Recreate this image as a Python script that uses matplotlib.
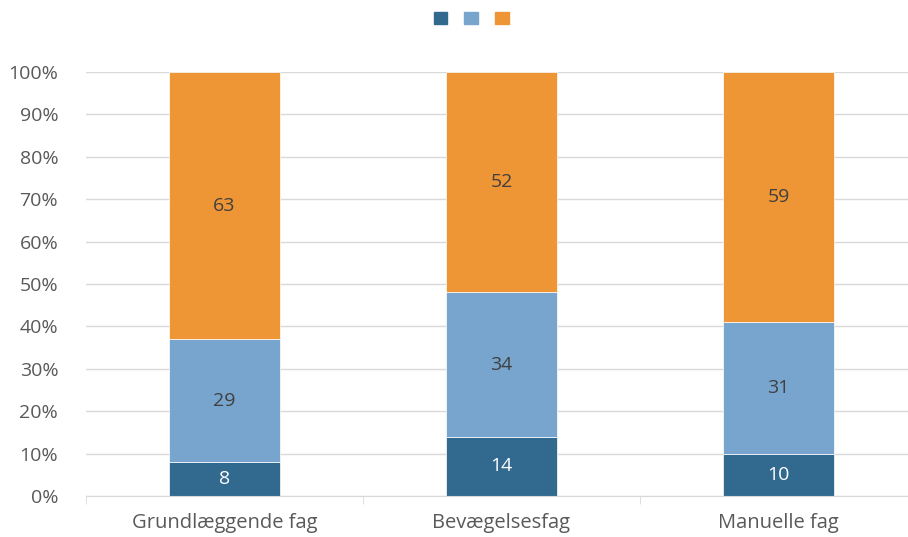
import matplotlib
matplotlib.use("Agg")
import matplotlib.pyplot as plt
from matplotlib.patches import Patch
import numpy as np

categories = ["Grundlæggende fag", "Bevægelsesfag", "Manuelle fag"]
s1 = [8, 14, 10]
s2 = [29, 34, 31]
s3 = [63, 52, 59]
colors = ["#31698F", "#77A5CE", "#EE9535"]
text_colors = ["white", "#404040", "#404040"]
yticks = [0, 10, 20, 30, 40, 50, 60, 70, 80, 90, 100]

plt.rcParams['font.family'] = ['Open Sans', 'DejaVu Sans']

W, H = 908, 537
fig = plt.figure(figsize=(W/100, H/100), dpi=100)
left, right = 86/W, 917/W
bottom, top = (H-496)/H, (H-72)/H
ax = fig.add_axes([left, bottom, right-left, top-bottom])

x = np.arange(len(categories))
bottoms = np.zeros(len(categories))
for vals, c, tc in zip([s1, s2, s3], colors, text_colors):
    ax.bar(x, vals, width=0.4, bottom=bottoms, color=c, edgecolor="white", linewidth=0.5, zorder=3)
    for xi, v, b in zip(x, vals, bottoms):
        ax.text(xi, b + v/2, str(v), ha="center", va="center", color=tc, fontsize=14, zorder=4)
    bottoms = bottoms + np.array(vals)

ax.set_xlim(-0.5, 2.5)
ax.set_ylim(0, 100)
ax.set_yticks(yticks)
ax.set_yticklabels([f"{t}%" for t in yticks], fontsize=14, color="#595959")
ax.yaxis.grid(True, color="#D9D9D9", linewidth=1, zorder=0)
ax.tick_params(axis="y", length=0, pad=20)
ax.set_xticks(x)
ax.set_xticklabels(categories, fontsize=14.5, color="#595959")
ax.set_xticks([-0.5, 0.5, 1.5, 2.5], minor=True)
ax.tick_params(axis="x", which="major", length=0, pad=12)
ax.tick_params(axis="x", which="minor", length=6, color="#D9D9D9")
for s in ["top", "right", "left"]:
    ax.spines[s].set_visible(False)
ax.spines["bottom"].set_color("#D9D9D9")
ax.spines["bottom"].set_zorder(5)

handles = [Patch(facecolor=c, edgecolor=c) for c in colors]
fig.legend(handles, ["", "", ""], ncol=3, loc="center", bbox_to_anchor=(471/W, 1-19.5/H),
           frameon=False, handlelength=1.0, handleheight=1.0, handletextpad=0.0, columnspacing=1.2)

fig.savefig("out.png", dpi=100)
